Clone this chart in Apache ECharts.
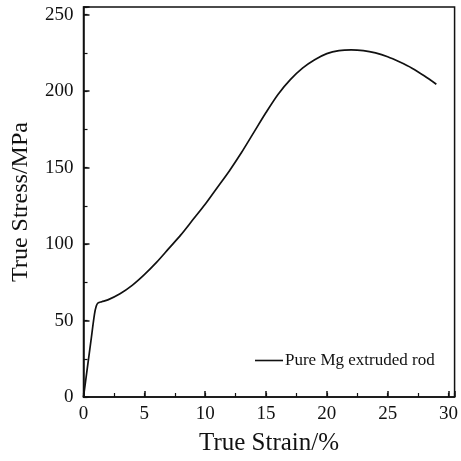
<!DOCTYPE html>
<html>
<head>
<meta charset="utf-8">
<script src="https://cdn.jsdelivr.net/npm/echarts@6/dist/echarts.min.js"></script>
<style>html,body{margin:0;padding:0;background:#fff}#c{width:461px;height:461px}</style>
</head>
<body>
<div id="c"></div>
<script>
const seriesName = "Pure Mg extruded rod";
const strain = [0, 0.3, 0.6, 0.9, 1.05, 1.2, 1.5, 2, 3, 4, 5, 6, 7, 8, 9, 10, 11, 12, 13, 14, 15, 16, 17, 18, 19, 20, 21, 22, 23, 24, 25, 26, 27, 28, 29];
const stress = [0, 18, 36, 54, 59.5, 61.5, 62.3, 63.5, 67.5, 73, 80, 88, 97, 106, 116, 126, 137, 148, 160, 173, 186, 198, 207.5, 215, 220.5, 224.5, 226.5, 227, 226.5, 225, 222.5, 219, 215, 210, 204.5];
const xTitle = "True Strain/%";
const yTitle = "True Stress/MPa";

const font = "'Liberation Serif', 'Times New Roman', serif";
const ink = '#111';
const data = strain.map((x, i) => [x, stress[i]]);
const X_MIN = 0, X_MAX = 30.5, Y_MIN = 0, Y_MAX = 255;

const chart = echarts.init(document.getElementById('c'), null, {renderer: 'canvas'});
chart.setOption({
  animation: false,
  backgroundColor: '#fff',
  grid: {left: 83.5, top: 7, right: 3, bottom: 61.5, show: true, borderColor: ink, borderWidth: 1.5, backgroundColor: 'transparent'},
  legend: {
    left: 250, top: 347, itemWidth: 28, itemHeight: 14, itemGap: 4,
    data: [{name: seriesName, icon: 'path://M0,7 L28,7 L28,8.6 L0,8.6 Z'}],
    textStyle: {fontFamily: font, fontSize: 17, color: ink, padding: [0,0,0,-3]}
  },
  xAxis: [
    {type: 'value', min: X_MIN, max: X_MAX, interval: 5,
     name: xTitle, nameLocation: 'middle', nameGap: 34,
     nameTextStyle: {fontFamily: font, fontSize: 25, color: ink},
     axisLine: {show: true, lineStyle: {color: ink, width: 1.5}},
     axisTick: {show: true, inside: true, length: 6, lineStyle: {color: ink, width: 1.5}},
     axisLabel: {fontFamily: font, fontSize: 19, color: ink, margin: 8,
       formatter: v => (v % 5 === 0 ? String(v) : '')},
     splitLine: {show: false}},
    {type: 'value', min: X_MIN, max: X_MAX, interval: 2.5, position: 'bottom',
     axisLine: {show: false},
     axisTick: {show: true, inside: true, length: 4, lineStyle: {color: ink, width: 1.2}},
     axisLabel: {show: false}, splitLine: {show: false}}
  ],
  yAxis: [
    {type: 'value', min: Y_MIN, max: Y_MAX, interval: 50,
     name: yTitle, nameLocation: 'middle', nameGap: 51,
     nameTextStyle: {fontFamily: font, fontSize: 24, color: ink},
     axisLine: {show: true, lineStyle: {color: ink, width: 1.5}},
     axisTick: {show: true, inside: true, length: 6, lineStyle: {color: ink, width: 1.5}},
     axisLabel: {fontFamily: font, fontSize: 19, color: ink, margin: 10,
       formatter: v => (v % 50 === 0 ? String(v) : '')},
     splitLine: {show: false}},
    {type: 'value', min: Y_MIN, max: Y_MAX, interval: 25, position: 'left',
     axisLine: {show: false},
     axisTick: {show: true, inside: true, length: 4, lineStyle: {color: ink, width: 1.2}},
     axisLabel: {show: false}, splitLine: {show: false}}
  ],
  series: [{
    name: seriesName, type: 'line', xAxisIndex: 0, yAxisIndex: 0,
    data: data, smooth: 0.3, symbol: 'none',
    lineStyle: {color: ink, width: 1.7}, itemStyle: {color: ink}
  }]
});
</script>
</body>
</html>
